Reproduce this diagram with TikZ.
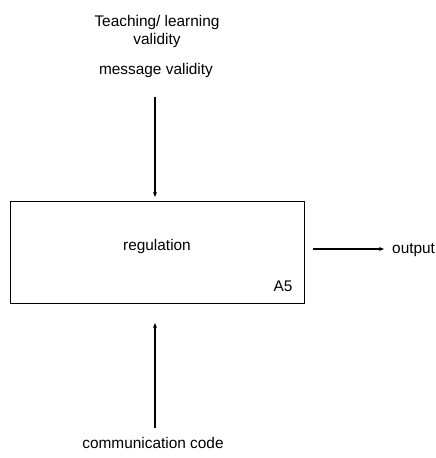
\documentclass[tikz,border=0pt]{standalone}
\usepackage{fontspec}
\setmainfont{Liberation Sans}
\usetikzlibrary{arrows.meta}
\begin{document}
\begin{tikzpicture}[x=1pt,y=-1pt,
  lbl/.style={inner sep=0pt,font=\fontsize{15.4}{18}\selectfont,align=center},
  flow/.style={line width=1.8pt,-{Stealth[length=5pt,width=4pt]}},
  act/.style={draw,line width=1pt,minimum width=294pt,minimum height=102pt,inner sep=0pt}]
\useasboundingbox (0,0) rectangle (436,458);
% activity box
\node[act] (box) at (157,252) {};
\node[lbl] (reg) at (157,247) {regulation};
\node[lbl] (a5) at (283,286) {A5};
% controls from above
\node[lbl] (teach) at (157,32) {Teaching/ learning\\validity};
\node[lbl] (msg) at (156,71) {message validity};
\coordinate (topS) at (155,97);
\coordinate (topE) at (155,197);
\draw[flow] (topS) -- (topE);
% mechanism from below
\node[lbl] (comm) at (153,443) {communication code};
\coordinate (botS) at (155,428);
\coordinate (botE) at (155,323);
\draw[flow] (botS) -- (botE);
% output
\node[lbl,anchor=west] (out) at (392,250) {output};
\coordinate (outS) at (313,249);
\coordinate (outE) at (384,249);
\draw[flow] (outS) -- (outE);
\end{tikzpicture}
\end{document}
